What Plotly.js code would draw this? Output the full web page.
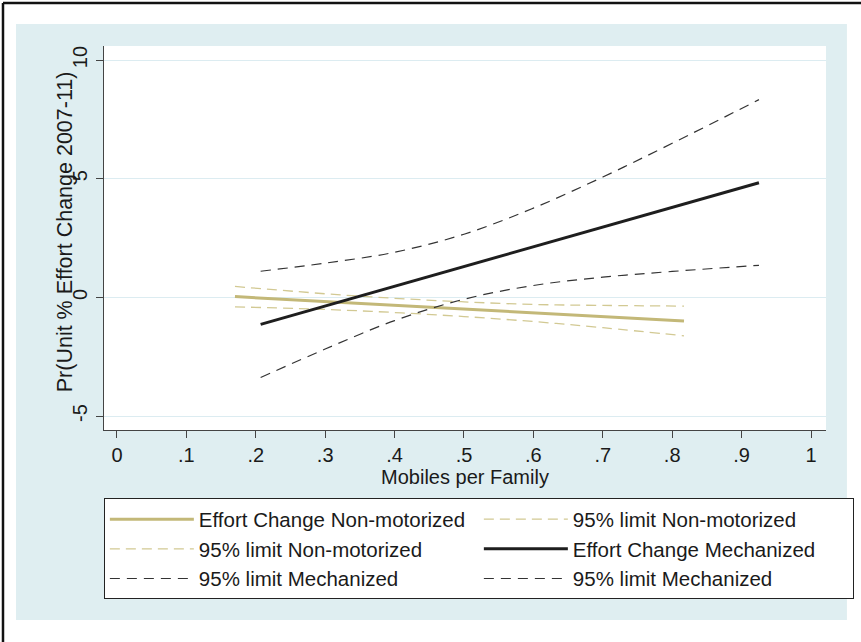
<!DOCTYPE html>
<html>
<head>
<meta charset="utf-8">
<script src="https://cdn.plot.ly/plotly-3.0.1.min.js"></script>
<style>html,body{margin:0;padding:0;background:#fff;}#chart{width:861px;height:642px;}</style>
</head>
<body>
<div id="chart"></div>
<script>
// Non-motorized
const nmX = [0.17, 0.30, 0.40, 0.50, 0.60, 0.70, 0.817];
const nmEffort = [0.03, -0.18, -0.34, -0.50, -0.65, -0.81, -1.00];
const nmUpper = [0.46, 0.15, -0.04, -0.19, -0.30, -0.34, -0.37];
const nmLower = [-0.40, -0.51, -0.64, -0.81, -1.02, -1.28, -1.62];
// Mechanized
const mX = [0.207, 0.30, 0.40, 0.50, 0.60, 0.70, 0.80, 0.925];
const mEffort = [-1.14, -0.37, 0.46, 1.29, 2.13, 2.96, 3.79, 4.83];
const mUpper = [1.10, 1.44, 1.90, 2.66, 3.76, 5.07, 6.49, 8.33];
const mLower = [-3.38, -2.18, -0.98, -0.08, 0.50, 0.85, 1.09, 1.35];

const xTickVals = [0, 0.1, 0.2, 0.3, 0.4, 0.5, 0.6, 0.7, 0.8, 0.9, 1];
const xTickText = ["0", ".1", ".2", ".3", ".4", ".5", ".6", ".7", ".8", ".9", "1"];
const yTickVals = [-5, 0, 5, 10];
const yTickText = ["-5", "0", "5", "10"];

const names = ["Effort Change Non-motorized", "95% limit Non-motorized", "95% limit Non-motorized",
               "Effort Change Mechanized", "95% limit Mechanized", "95% limit Mechanized"];
const yTitle = "Pr(Unit % Effort Change 2007-11)";
const xTitle = "Mobiles per Family";

const tan = "#c3b878", tanLight = "#d2c993", blk = "#1e1e1e", blkD = "#333333";

const traces = [
  {x: nmX, y: nmEffort, name: names[0], line: {color: tan, width: 3}},
  {x: nmX, y: nmUpper, name: names[1], line: {color: tanLight, width: 1.3, dash: "10px,6px", shape: "spline"}},
  {x: nmX, y: nmLower, name: names[2], line: {color: tanLight, width: 1.3, dash: "10px,6px", shape: "spline"}},
  {x: mX, y: mEffort, name: names[3], line: {color: blk, width: 3}},
  {x: mX, y: mUpper, name: names[4], line: {color: blkD, width: 1.2, dash: "10px,7px", shape: "spline"}},
  {x: mX, y: mLower, name: names[5], line: {color: blkD, width: 1.2, dash: "10px,7px", shape: "spline"}}
].map(t => Object.assign({type: "scatter", mode: "lines", hoverinfo: "skip"}, t));

const font = {family: "Liberation Sans, Arial, sans-serif", size: 20, color: "#1a1a1a"};

const layout = {
  width: 861, height: 642,
  margin: {l: 104, r: 35, t: 46, b: 212, autoexpand: false},
  paper_bgcolor: "#ffffff",
  plot_bgcolor: "rgba(0,0,0,0)",
  font: font,
  showlegend: true,
  xaxis: {
    range: [-0.0187, 1.0216],
    tickvals: xTickVals, ticktext: xTickText,
    ticks: "outside", ticklen: 7, tickcolor: "#444", tickwidth: 1,
    showline: true, linecolor: "#444", linewidth: 1,
    showgrid: false, zeroline: false,
    tickfont: {size: 20},
    title: {text: xTitle, font: {size: 20}, standoff: 2}
  },
  yaxis: {
    range: [-5.59, 10.59],
    tickvals: yTickVals, ticktext: yTickText, tickangle: -90,
    ticks: "outside", ticklen: 7, tickcolor: "#444", tickwidth: 1,
    ticklabelstandoff: 1,
    showline: true, linecolor: "#444", linewidth: 1,
    showgrid: true, gridcolor: "#dcecf1", gridwidth: 1, zeroline: false,
    tickfont: {size: 20}
  },
  annotations: [
    {text: yTitle, xref: "paper", yref: "paper", x: -0.054, y: 0.515, textangle: -90,
     showarrow: false, xanchor: "center", yanchor: "middle", font: {size: 21.5}}
  ],
  legend: {
    orientation: "h",
    x: -0.0002, xanchor: "left", y: -0.178, yanchor: "top",
    bgcolor: "#ffffff", bordercolor: "#222", borderwidth: 1,
    entrywidth: 275, entrywidthmode: "pixels",
    itemwidth: 84,
    font: {size: 20.5},
    traceorder: "normal"
  },
  shapes: [
    {type: "rect", xref: "paper", yref: "paper", x0: -0.1219, x1: 1.029, y0: -0.4948, y1: 1.0573,
     fillcolor: "#dfeef1", line: {width: 0}, layer: "below"},
    {type: "rect", xref: "paper", yref: "paper", x0: 0, x1: 1, y0: 0, y1: 1,
     fillcolor: "#ffffff", line: {width: 0}, layer: "below"},
    {type: "line", xref: "paper", yref: "paper", x0: -0.1399, x1: -0.1399, y0: 1.112, y1: -0.6,
     line: {color: "#111", width: 2.5}},
    {type: "line", xref: "paper", yref: "paper", x0: -0.1399, x1: 1.1, y0: 1.112, y1: 1.112,
     line: {color: "#111", width: 2.5}}
  ]
};

Plotly.newPlot("chart", traces, layout, {displayModeBar: false, staticPlot: true});
</script>
</body>
</html>
